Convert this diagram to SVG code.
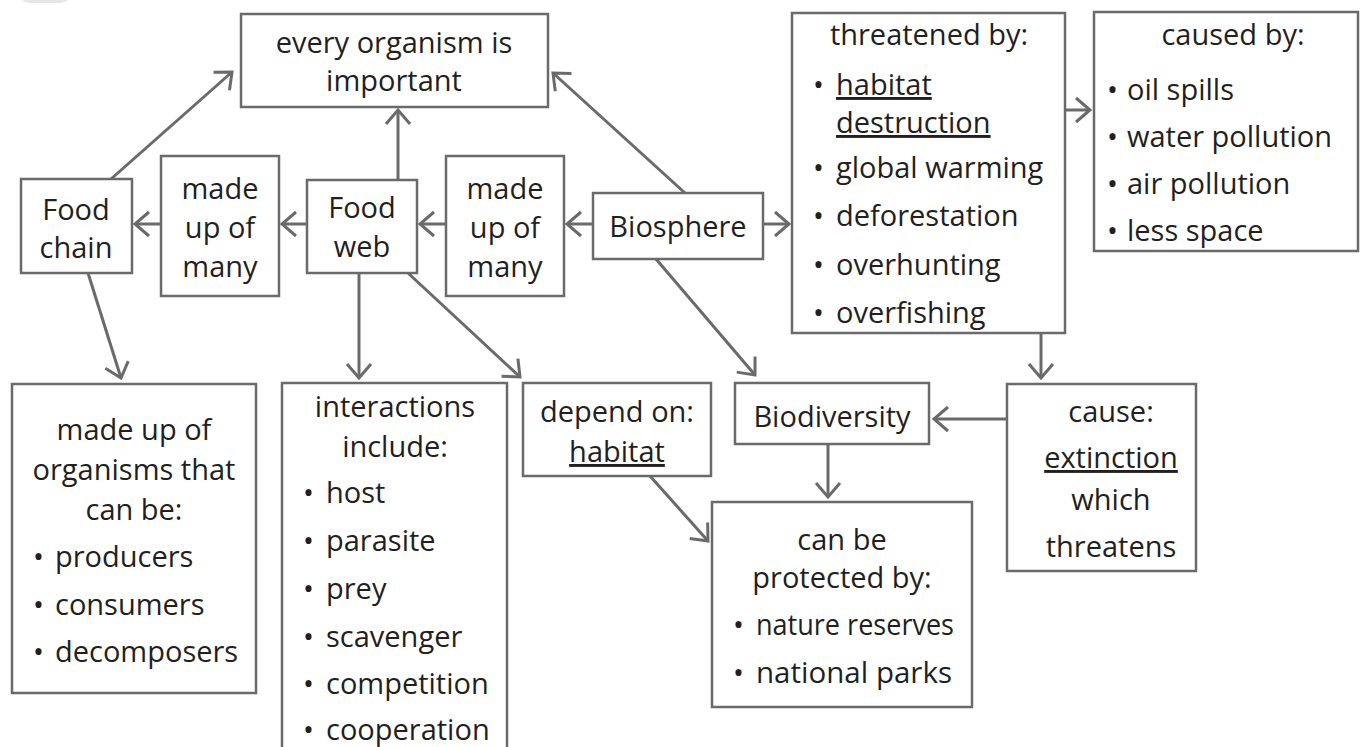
<svg xmlns="http://www.w3.org/2000/svg" width="1362" height="747" viewBox="0 0 1362 747">
<style>
.box{fill:#fff;stroke:#6a6a6a;stroke-width:2.5}
.t{font-family:"Open Sans","Noto Sans",sans-serif;font-size:29px;fill:#231f20}
.c{text-anchor:middle}
.u{text-decoration:underline}
.ln{stroke:#6a6a6a;stroke-width:3;fill:none;marker-end:url(#ah)}
</style>
<defs>
<marker id="ah" markerUnits="userSpaceOnUse" viewBox="-20 -16 24 32" markerWidth="24" markerHeight="32" refX="0" refY="0" orient="auto">
<path d="M-14,-12 L0,0 L-14,12" fill="none" stroke="#6a6a6a" stroke-width="3"/>
</marker>
</defs>
<rect x="18" y="-30" width="54" height="33" rx="12" fill="#e6e6e6"/>
<g id="connectors">
<line class="ln" x1="111" y1="179" x2="232" y2="72"/>
<line class="ln" x1="161" y1="224" x2="135" y2="224"/>
<line class="ln" x1="307" y1="224" x2="282" y2="224"/>
<line class="ln" x1="446" y1="224" x2="420" y2="224"/>
<line class="ln" x1="593" y1="224" x2="567" y2="224"/>
<line class="ln" x1="398" y1="180" x2="398" y2="110"/>
<line class="ln" x1="359" y1="273" x2="359" y2="378"/>
<line class="ln" x1="408" y1="273" x2="520" y2="377"/>
<line class="ln" x1="88" y1="273" x2="121" y2="378"/>
<line class="ln" x1="685" y1="193" x2="553" y2="73"/>
<line class="ln" x1="763" y1="224" x2="789" y2="224"/>
<line class="ln" x1="656" y1="259" x2="755" y2="375"/>
<line class="ln" x1="1065" y1="110" x2="1090" y2="110"/>
<line class="ln" x1="1041" y1="333" x2="1041" y2="378"/>
<line class="ln" x1="1007" y1="419" x2="934" y2="419"/>
<line class="ln" x1="828" y1="444" x2="828" y2="497"/>
<line class="ln" x1="650" y1="476" x2="708" y2="541"/>
</g>
<g id="important">
<rect class="box" x="241" y="14" width="307" height="93"/>
<text class="t c" x="394" y="53">every organism is</text>
<text class="t c" x="394" y="91">important</text>
</g>
<g id="threatened">
<rect class="box" x="792" y="13" width="273" height="320"/>
<text class="t c" x="929" y="45">threatened by:</text>
<text class="t" x="813" y="95">•</text><text class="t u" x="836" y="95">habitat </text>
<text class="t u" x="836" y="133">destruction</text>
<text class="t" x="813" y="178">•</text><text class="t" x="836" y="178">global warming</text>
<text class="t" x="813" y="226">•</text><text class="t" x="836" y="226">deforestation</text>
<text class="t" x="813" y="275">•</text><text class="t" x="836" y="275">overhunting</text>
<text class="t" x="813" y="323">•</text><text class="t" x="836" y="323">overfishing</text>
</g>
<g id="causedby">
<rect class="box" x="1094" y="12" width="264" height="239"/>
<text class="t c" x="1233" y="45">caused by:</text>
<text class="t" x="1107" y="100">•</text><text class="t" x="1127" y="100">oil spills</text>
<text class="t" x="1107" y="147">•</text><text class="t" x="1127" y="147">water pollution</text>
<text class="t" x="1107" y="194">•</text><text class="t" x="1127" y="194">air pollution</text>
<text class="t" x="1107" y="241">•</text><text class="t" x="1127" y="241">less space</text>
</g>
<g id="foodchain">
<rect class="box" x="21" y="179" width="111" height="94"/>
<text class="t c" x="76" y="220">Food</text>
<text class="t c" x="76" y="258">chain</text>
</g>
<g id="madeup1">
<rect class="box" x="161" y="156" width="118" height="140"/>
<text class="t c" x="220" y="199">made</text>
<text class="t c" x="220" y="238">up of</text>
<text class="t c" x="220" y="277">many</text>
</g>
<g id="foodweb">
<rect class="box" x="307" y="180" width="110" height="93"/>
<text class="t c" x="362" y="218">Food</text>
<text class="t c" x="362" y="257">web</text>
</g>
<g id="madeup2">
<rect class="box" x="446" y="156" width="118" height="140"/>
<text class="t c" x="505" y="199">made</text>
<text class="t c" x="505" y="238">up of</text>
<text class="t c" x="505" y="277">many</text>
</g>
<g id="biosphere">
<rect class="box" x="593" y="193" width="170" height="66"/>
<text class="t c" x="678" y="237">Biosphere</text>
</g>
<g id="organisms">
<rect class="box" x="12" y="384" width="244" height="309"/>
<text class="t c" x="134" y="440">made up of</text>
<text class="t c" x="134" y="480">organisms that</text>
<text class="t c" x="134" y="520">can be:</text>
<text class="t" x="33" y="567">•</text><text class="t" x="55" y="567">producers</text>
<text class="t" x="33" y="615">•</text><text class="t" x="55" y="615">consumers</text>
<text class="t" x="33" y="662">•</text><text class="t" x="55" y="662">decomposers</text>
</g>
<g id="interactions">
<rect class="box" x="282" y="383" width="225" height="380"/>
<text class="t c" x="395" y="417">interactions</text>
<text class="t c" x="395" y="457">include:</text>
<text class="t" x="303" y="503">•</text><text class="t" x="326" y="503">host</text>
<text class="t" x="303" y="551">•</text><text class="t" x="326" y="551">parasite</text>
<text class="t" x="303" y="599">•</text><text class="t" x="326" y="599">prey</text>
<text class="t" x="303" y="647">•</text><text class="t" x="326" y="647">scavenger</text>
<text class="t" x="303" y="694">•</text><text class="t" x="326" y="694">competition</text>
<text class="t" x="303" y="740">•</text><text class="t" x="326" y="740">cooperation</text>
</g>
<g id="dependon">
<rect class="box" x="523" y="383" width="188" height="93"/>
<text class="t c" x="617" y="422">depend on:</text>
<text class="t c u" x="617" y="462">habitat</text>
</g>
<g id="biodiversity">
<rect class="box" x="735" y="383" width="194" height="61"/>
<text class="t c" x="832" y="427">Biodiversity</text>
</g>
<g id="cause">
<rect class="box" x="1007" y="384" width="189" height="187"/>
<text class="t c" x="1111" y="422">cause:</text>
<text class="t c u" x="1111" y="468">extinction</text>
<text class="t c" x="1111" y="510">which</text>
<text class="t c" x="1111" y="557">threatens</text>
</g>
<g id="protected">
<rect class="box" x="712" y="502" width="260" height="205"/>
<text class="t c" x="842" y="550">can be</text>
<text class="t c" x="842" y="588">protected by:</text>
<text class="t" x="733" y="635">•</text><text class="t" x="756" y="635" textLength="198" lengthAdjust="spacingAndGlyphs">nature reserves</text>
<text class="t" x="733" y="683">•</text><text class="t" x="756" y="683" textLength="196" lengthAdjust="spacingAndGlyphs">national parks</text>
</g>
</svg>
